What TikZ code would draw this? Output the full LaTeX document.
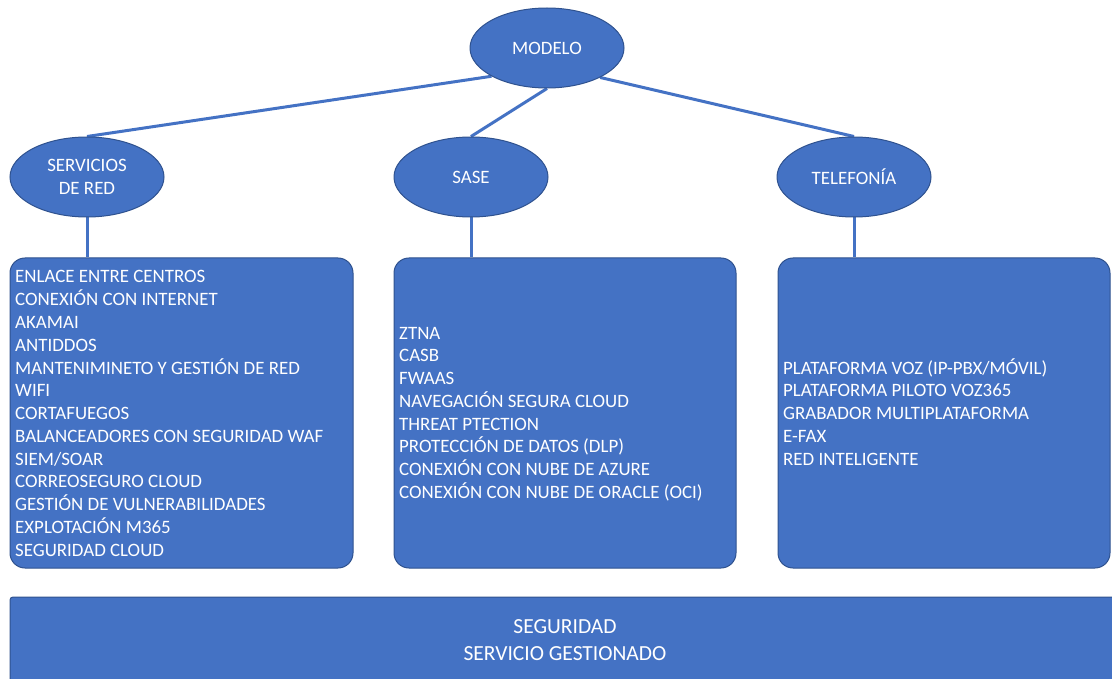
\documentclass[tikz,border=0pt]{standalone}
\usepackage{fontspec}
\setmainfont{Carlito}
\usetikzlibrary{shapes.geometric,backgrounds}
\definecolor{fillblue}{HTML}{4472C4}
\definecolor{edgeblue}{HTML}{2F528F}
\tikzset{
  oval/.style={ellipse, fill=fillblue, draw=edgeblue, line width=1pt, minimum width=154, minimum height=80, inner sep=0pt, text=white, align=center, font=\fontsize{18.9}{23}\selectfont},
  panel/.style={rectangle, rounded corners=15pt, fill=fillblue, draw=edgeblue, line width=1pt, inner sep=0pt},
  item/.style={anchor=base west, inner sep=0pt, text=white, font=\fontsize{18.9}{22.75}\selectfont},
  link/.style={draw=fillblue, line width=3pt},
}
\begin{document}
\begin{tikzpicture}[x=1pt, y=-1pt]
\useasboundingbox (0,0) rectangle (1112,679);
\clip (0,0) rectangle (1112,679);
% ellipses
\node[oval] (modelo) at (547,48) {MODELO};
\node[oval] (serv) at (87,177) {SERVICIOS\\DE RED};
\node[oval] (sase) at (471,177) {SASE};
\node[oval] (tel) at (854,177) {TELEFONÍA};
% panels
\node[panel, minimum width=343, minimum height=310] (b1) at (181.5,413) {};
\node[panel, minimum width=342, minimum height=310] (b2) at (565,413) {};
\node[panel, minimum width=332, minimum height=310] (b3) at (944,413) {};
% bottom bar
\node[rectangle, rounded corners=3pt, fill=fillblue, draw=edgeblue, line width=1pt, minimum width=1120, minimum height=100, inner sep=0pt] (bar) at (570,647) {};
\node[text=white, align=center, inner sep=0pt, font=\fontsize{21.5}{27}\selectfont] (bartext) at (565,640) {SEGURIDAD\\SERVICIO GESTIONADO};
% connectors
\begin{scope}[on background layer]
\draw[link] (modelo.207) -- (serv.north);
\draw[link] (modelo.south) -- (sase.north);
\draw[link] (modelo.331) -- (tel.north);
\draw[link] (serv.south) -- (serv.south |- b1.north);
\draw[link] (sase.south) -- (sase.south |- b2.north);
\draw[link] (tel.south) -- (tel.south |- b3.north);
\end{scope}
% texts
\foreach \t [count=\i] in {{ENLACE ENTRE CENTROS},{CONEXIÓN CON INTERNET},{AKAMAI},{ANTIDDOS},{MANTENIMINETO Y GESTIÓN DE RED},{WIFI},{CORTAFUEGOS},{BALANCEADORES CON SEGURIDAD WAF},{SIEM/SOAR},{CORREOSEGURO CLOUD},{GESTIÓN DE VULNERABILIDADES},{EXPLOTACIÓN M365},{SEGURIDAD CLOUD}}
  \node[item] (l\i) at (15,{283+22.75*(\i-1)}) {\t};
\foreach \t [count=\i] in {{ZTNA},{CASB},{FWAAS},{NAVEGACIÓN SEGURA CLOUD},{THREAT PTECTION},{PROTECCIÓN DE DATOS (DLP)},{CONEXIÓN CON NUBE DE AZURE},{CONEXIÓN CON NUBE DE ORACLE (OCI)}}
  \node[item] (m\i) at (399,{339+22.75*(\i-1)}) {\t};
\foreach \t [count=\i] in {{PLATAFORMA VOZ (IP-PBX/MÓVIL)},{PLATAFORMA PILOTO VOZ365},{GRABADOR MULTIPLATAFORMA},{E-FAX},{RED INTELIGENTE}}
  \node[item] (r\i) at (783,{374+22.75*(\i-1)}) {\t};
\end{tikzpicture}
\end{document}
